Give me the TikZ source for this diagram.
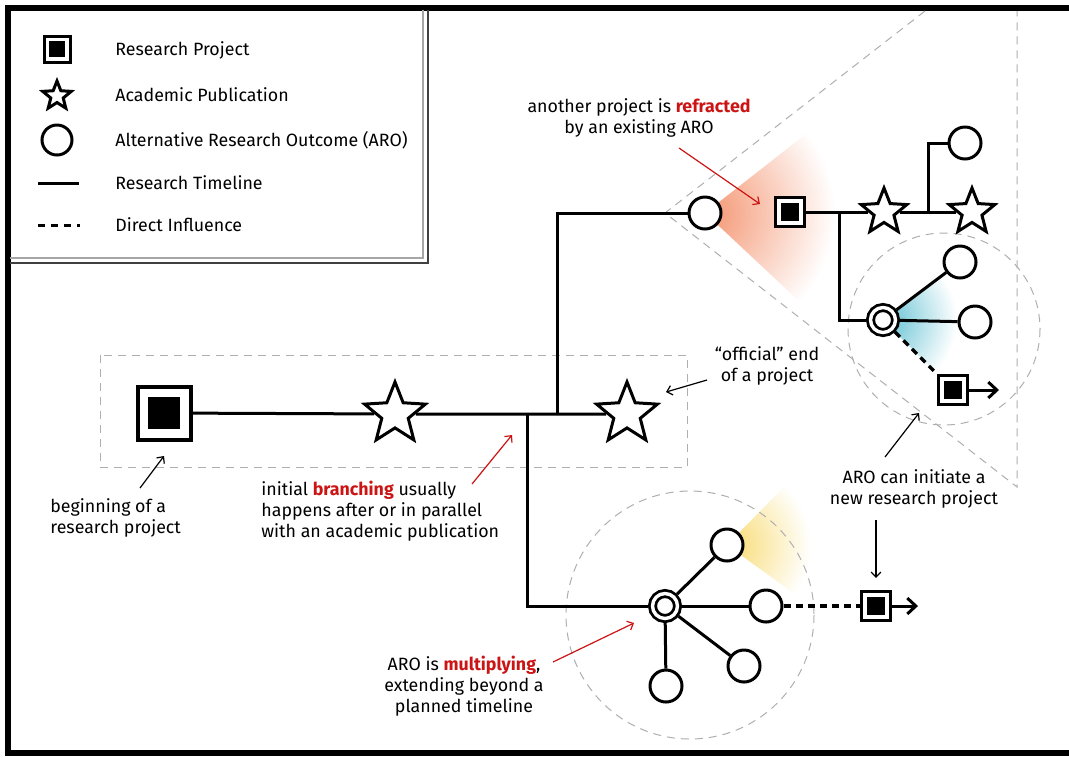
\documentclass[tikz,border=0pt]{standalone}
\usepackage{fontspec}
\setmainfont{Fira Sans}
\usepackage{xcolor}
\usepackage{tikz}
\usetikzlibrary{arrows.meta,shapes.geometric,calc}

\definecolor{accent}{RGB}{204,20,20}
\definecolor{refrorange}{RGB}{244,148,112}
\definecolor{aroblue}{RGB}{95,192,210}
\definecolor{aroyellow}{RGB}{248,218,110}
\definecolor{guidegray}{RGB}{175,175,175}

\begin{document}
\begin{tikzpicture}[x=0.5pt, y=-0.5pt,
  font=\fontsize{8.9}{10.6}\selectfont,
  timeline/.style={line width=1.5pt},
  influence/.style={line width=1.6pt, dash pattern=on 3.5pt off 2.5pt},
  guide/.style={guidegray, line width=0.5pt, dash pattern=on 4pt off 3pt},
  project/.style={rectangle, draw, line width=1.6pt, fill=white, inner sep=0, minimum size=#1,
    path picture={\fill[black] ($(path picture bounding box.south west)!0.2!(path picture bounding box.north east)$)
      rectangle ($(path picture bounding box.south west)!0.8!(path picture bounding box.north east)$);}},
  pub/.style={star, star points=5, star point ratio=2.3, draw, line width=1.5pt, fill=white, inner sep=0, minimum size=#1},
  aro/.style={circle, draw, line width=1.5pt, fill=white, inner sep=0, minimum size=16pt},
  hub/.style={circle, draw, line width=1.4pt, double=white, double distance=1.7pt, fill=white,
    inner sep=0, outer sep=2.2pt, minimum size=12.5pt},
  note/.style={align=center, inner sep=0},
  pointer/.style={-{Straight Barb[length=0.9mm,width=1.7mm]}, line width=0.6pt},
  launch/.style={-{Straight Barb[length=1.5mm,width=2.8mm]}, line width=1.5pt}]
  \useasboundingbox (0,0) rectangle (1069,757);
  \fill[white] (-10,-10) rectangle (1080,770);

  % frame and legend box
  \draw[line width=3pt] (1069,8) -- (8,8) -- (8,753) -- (1069,753);
  \draw[gray!70, line width=0.6pt] (10,258) -- (423,258) -- (423,10);
  \draw[black!75, line width=0.7pt] (10,263) -- (428,263) -- (428,10);

  % legend
  \node[project=13pt, line width=1.5pt] (lgProj) at (57,49) {};
  \node[pub=15pt] (lgPub) at (57,96) {};
  \node[aro, minimum size=15pt] (lgAro) at (57,140) {};
  \draw[timeline] (38,183) -- (79,183);
  \draw[line width=1.5pt, dash pattern=on 3.5pt off 3pt] (38,225) -- (80,225);
  \node[anchor=west, inner sep=0] (lgProjTxt) at (115,50) {Research Project};
  \node[anchor=west, inner sep=0] (lgPubTxt) at (115,95) {Academic Publication};
  \node[anchor=west, inner sep=0] (lgAroTxt) at (115,140) {Alternative Research Outcome (ARO)};
  \node[anchor=west, inner sep=0] (lgLineTxt) at (115,183) {Research Timeline};
  \node[anchor=west, inner sep=0] (lgDashTxt) at (115,225) {Direct Influence};

  % glow behind the AROs
  \begin{scope}
    \clip (705,213) -- (870,84) -- (830,330) -- cycle;
    \shade[inner color=refrorange, outer color=white] (705,213) circle[radius=130];
  \end{scope}
  \begin{scope}
    \clip (883,320) -- (975,250) -- (975,412) -- cycle;
    \shade[inner color=aroblue, outer color=white] (883,320) circle[radius=74];
  \end{scope}
  \begin{scope}
    \clip (727,545) -- (830,440) -- (810,605) -- cycle;
    \shade[inner color=aroyellow, outer color=white] (727,545) circle[radius=84];
  \end{scope}

  % dashed guides
  \draw[guide] (100,355) rectangle (687,467);
  \draw[guide] (925,11) -- (665,213) -- (1017,487) -- (1017,11);
  \draw[guide] (944,329) circle[radius=96];
  \draw[guide] (690,615) circle[radius=124];

  % main project
  \node[project=26.5pt, line width=2pt] (proj) at (164,413) {};
  \node[pub=32pt] (pubA) at (395,414) {};
  \node[pub=32pt] (pubB) at (627,414) {};
  \coordinate (brDown) at (527,414);
  \coordinate (brUp) at (557,414);

  % refracted project
  \node[aro] (aroA) at (705,213) {};
  \node[project=14.5pt] (projB) at (790,212) {};
  \node[pub=24pt] (pubC) at (884,212) {};
  \node[pub=24pt] (pubD) at (972,212) {};
  \coordinate (brC) at (839,212);
  \coordinate (brD) at (928,212);
  \node[aro] (aroT) at (965,143) {};
  \node[hub] (hubR) at (883,320) {};
  \node[aro] (aroR1) at (960,262) {};
  \node[aro] (aroR2) at (975,322) {};
  \node[project=14.5pt] (newA) at (953,390) {};
  \coordinate (newAend) at (999,390);

  % multiplying ARO
  \node[hub] (hubM) at (665,606) {};
  \node[aro] (aroM1) at (727,545) {};
  \node[aro] (aroM2) at (766,606) {};
  \node[aro] (aroM3) at (744,666) {};
  \node[aro] (aroM4) at (666,686) {};
  \node[project=14.5pt] (newB) at (876,606) {};
  \coordinate (newBend) at (918,606);

  % timelines
  \draw[timeline] (proj) -- (pubA) -- (pubB);
  \draw[timeline] (brUp) |- (aroA);
  \draw[timeline] (brDown) |- (hubM);
  \draw[timeline] (projB) -- (pubC) -- (pubD);
  \draw[timeline] (brC) |- (hubR);
  \draw[timeline] (brD) |- (aroT);
  \draw[timeline] (hubR) -- (aroR1);
  \draw[timeline] (hubR) -- (aroR2);
  \draw[influence] (hubR) -- (newA);
  \draw[launch] (newA) -- (newAend);
  \foreach \k in {1,...,4}
    \draw[timeline] (hubM) -- (aroM\k);
  \draw[influence] (aroM2) -- (newB);
  \draw[launch] (newB) -- (newBend);

  % notes
  \node[note] (refrNote) at (639,118) {another project is \textbf{\color{accent}refracted}\\by an existing ARO};
  \coordinate (refrTail) at (679,148);
  \coordinate (refrHead) at (760,204);
  \draw[pointer, accent] (refrTail) -- (refrHead);

  \node[note] (endNote) at (767,366) {“official” end\\of a project};
  \coordinate (endTail) at (707,380);
  \coordinate (endHead) at (666,392);
  \draw[pointer] (endTail) -- (endHead);

  \node[note, align=left, anchor=west] (beginNote) at (50,518) {beginning of a\\research project};
  \coordinate (beginTail) at (140,488);
  \coordinate (beginHead) at (164,456);
  \draw[pointer] (beginTail) -- (beginHead);

  \node[note, align=left, anchor=west] (branchNote) at (261,511) {initial \textbf{\color{accent}branching} usually\\happens after or in parallel\\with an academic publication};
  \coordinate (branchTail) at (472,484);
  \coordinate (branchHead) at (512,435);
  \draw[pointer, accent] (branchTail) -- (branchHead);

  \node[note] (multNote) at (464,686) {ARO is \textbf{\color{accent}multiplying},\\extending beyond a\\planned timeline};
  \coordinate (multTail) at (553,662);
  \coordinate (multHead) at (634,623);
  \draw[pointer, accent] (multTail) -- (multHead);

  \node[note] (initNote) at (914,489) {ARO can initiate a\\new research project};
  \coordinate (initTail) at (885,457);
  \coordinate (initHead) at (919,413);
  \draw[pointer] (initTail) -- (initHead);
  \coordinate (downTail) at (876,520);
  \coordinate (downHead) at (876,578);
  \draw[pointer] (downTail) -- (downHead);
\end{tikzpicture}
\end{document}
